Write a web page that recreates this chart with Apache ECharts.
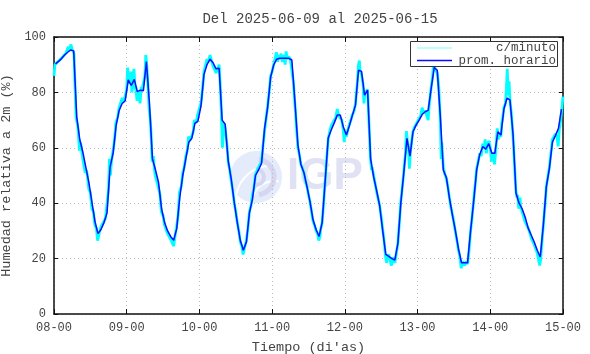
<!DOCTYPE html>
<html>
<head>
<meta charset="utf-8">
<script src="https://cdn.jsdelivr.net/npm/echarts@6/dist/echarts.min.js"></script>
<style>
html,body{margin:0;padding:0;background:#fff;}
#chart{width:590px;height:354px;}
</style>
</head>
<body>
<div id="chart"></div>
<script>
// ---- Data (hours since 08-00) ----
const tickLabels = ['08-00','09-00','10-00','11-00','12-00','13-00','14-00','15-00'];
const titleText = 'Del 2025-06-09 al 2025-06-15';
const seriesNames = ['c/minuto', 'prom. horario'];

// hourly averages (plotted at the middle of each hour)
const hourlyValues = [
  90.3, 91.2, 92.2, 93.5, 94.5, 95.3, 95, 71.2, 63, 58.5, 53, 47.5, 40.5, 33.5, 29, 30.5, 33, 36.5, 53, 58, 68, 73.5, 76, 77,
  84.5, 82.5, 84.7, 80.3, 80.8, 80.6, 91.1, 76, 56, 52, 47.5, 38, 33, 30, 28, 26.6, 30.8, 42, 50, 56, 62, 63.5, 68.8, 69.6,
  75, 86.5, 90, 92, 90.7, 88.5, 88.7, 70, 68.5, 55.3, 48.7, 40.3, 33, 26.5, 23, 26, 36.5, 41.5, 50, 52, 54.4, 67, 74.5, 85.5,
  89.9, 92, 92.3, 92.3, 92.3, 92.3, 91.7, 77, 61, 54, 51, 46, 40.5, 34, 30.5, 28, 33, 48, 63.5, 66.4, 69, 71.8, 71.8, 67.5,
  64.6, 68, 71.8, 75.4, 88, 87.6, 79, 80.8, 56, 49.5, 44.5, 39, 30, 21.5, 20.8, 20, 19.5, 25.5, 40.5, 51.5, 63.4, 57, 65.8, 68.2,
  70, 72, 73, 73.5, 81.5, 89, 88, 71.5, 52, 49.3, 42, 35.7, 30, 23.5, 18.5, 18.5, 18.5, 30, 40.5, 52, 57.5, 60.4, 59.5, 61.5,
  58, 58, 65.8, 64.6, 74, 77.9, 77.3, 65, 43.6, 40, 38, 35, 31, 28.5, 26, 23, 20.6, 32, 46, 52.5, 62, 64.4, 67, 74
];

// per-minute readings (sampled where readable): times in hours, values in %
const minuteTimes = [
  0,0.3,1,2,3,4,4.7,5,5.6,6,6.6,7,7.3,7.8,8,8.4,8.7,9,9.5,10,10.3,10.7,11,11.5,12,12.5,13,13.5,14,14.4,14.8,15,15.5,16,16.5,17,17.5,18,18.3,18.6,19,19.5,20,20.4,21,21.5,22,22.5,23,23.5,
  24,24.3,24.6,25,25.4,25.7,26,26.4,26.8,27,27.4,28,28.4,28.8,29,29.5,30,30.3,30.6,31,31.4,31.8,32,32.4,32.8,33,33.4,34,34.4,35,35.4,36,36.5,37,37.5,38,38.5,39,39.5,40,40.4,41,41.4,42,42.5,43,43.5,44,44.4,45,45.5,46,46.3,47,47.4,
  48,48.5,49,49.5,50,50.5,51,51.5,52,52.5,53,53.5,54,54.5,55,55.3,55.6,56,56.5,57,57.5,58,58.5,59,59.5,60,60.5,61,61.5,62,62.4,63,63.5,64,64.5,65,65.5,66,66.5,67,67.5,68,68.5,69,69.5,70,70.5,71,71.5,72,
  72.5,73,73.4,73.8,74,74.5,75,75.4,76,76.3,76.6,77,77.5,78,78.5,79,79.5,80,80.5,81,81.5,82,82.5,83,83.5,84,84.5,85,85.5,86,86.5,87,87.4,87.8,88,88.5,89,89.5,90,90.5,91,91.5,92,92.5,93,93.5,94,94.5,95,95.5,95.8,
  96,96.5,97,97.5,98,98.5,99,99.5,100,100.5,100.8,101,101.5,102,102.3,102.6,103,103.5,104,104.4,104.8,105,105.5,106,106.5,107,107.5,108,108.5,109,109.4,109.8,110,110.5,111,111.4,111.8,112,112.5,113,113.5,114,114.5,115,115.5,116,116.3,116.6,117,117.3,117.6,118,118.5,119,119.5,
  120,120.5,121,121.5,122,122.5,123,123.5,123.8,124,124.5,125,125.3,125.6,126,126.5,127,127.5,127.8,128,128.5,129,129.5,130,130.5,131,131.5,132,132.5,133,133.5,134,134.4,134.8,135,135.5,136,136.5,137,137.5,138,138.5,139,139.5,140,140.5,141,141.5,142,142.3,142.7,143,143.5,
  144,144.4,144.8,145,145.4,145.8,146,146.3,146.6,147,147.5,147.8,148,148.5,149,149.3,149.6,149.9,150.2,150.5,151,151.5,152,152.4,152.8,153,153.4,153.8,154,154.5,155,155.4,156,156.5,157,157.5,158,158.5,159,159.5,160,160.3,160.6,161,161.5,162,162.5,163,163.5,164,164.5,165,165.5,166,166.4,166.8,167,167.5,168
];
const minuteValues = [
  86,90,90.8,91.8,93,94.3,96.5,95,97.3,95.5,94,80,71,68,66,59,62,60.5,56,56,51,52,50,45,44,38,37,32,31,26.5,28.5,29.5,31.5,31.5,33.5,34.5,40,45,56,50,55.5,59,63,69,71,74.5,75,78,76.5,77,
  81,89,83,83.5,87.5,80,84,88.5,81,82,77,80.5,76,82,80.7,80,86,93.5,90,83,74,70,66,55,57,54,50,49.5,46,43,37,35.5,32,31.5,29,29,27,27.3,24.5,28.5,31,36,44,46,51,53,57,59,64,62.8,63,66,70,69,72,
  72,76,81,87.5,88,92,91,93.5,91.5,89.5,90,87,88.5,90,80,70,60,69,67,62,55,52,48,44.5,40,37,33,30,26,24.5,21.5,24.5,26.5,31,37,39,43,45.5,50.5,51,53,53.2,55,61,66,70.5,75,80,86,87.5,
  90,92.5,94.5,91,93.5,92,94,91,93.5,90,94.8,92,93,92,91.5,84,76,68,60,57.5,54,52.5,51,48,46,43,40.5,37,33.5,32,30,29,26.5,28,30.5,33,40,48,56,63,66,68,67.5,70,71,74,71.5,72,70,66,62,
  66,64,66.5,68.5,70,72,73,76,82,90,91.5,88,86.5,83,76,80,80,81,68,57,52,53,50,47,44,41.5,39,35,30.5,26,21,18.5,20.5,21.5,19,17.5,20.5,19.5,18.5,22,25.5,33,41,46,52,58,66,63,60,52.5,58,62,66,67.5,68,
  69.5,70.5,71.5,74.5,72.5,73.5,73,70,75,77,82,86,91.5,89,89,87,82,70,56,62,53,50.5,49,46,42,38.5,36,33,29.5,26.5,23,20.5,16.5,19,18.5,17.5,19,18,23,30,35,41,46.5,52.5,55,58,57,61.5,60,63,58,60.5,62.5,
  60,55,58.5,57,54,59,62,67,63,65,64,69,70,74.5,76,81,88.5,79,84,77,72,64,54,45,42,43,38,42,39,37,36.5,33.5,33,31,29.5,27.5,27,25,24.5,22,21.5,17.5,19.5,25,32,38.5,46,49.5,53,58,63,62.5,65,64,60.5,67,68,73,78.5
];

const FONT = '"Liberation Mono", "DejaVu Sans Mono", monospace';
const TXT = '#444';

const chart = echarts.init(document.getElementById('chart'), null, {renderer: 'canvas'});

const hourlyData = hourlyValues.map((v, i) => [i + 0.5, v]);
const minuteData = minuteTimes.map((t, i) => [t, minuteValues[i]]);

const gridLine = {show: true, lineStyle: {color: '#bbb', type: [1, 3], width: 1}};

const option = {
  animation: false,
  backgroundColor: '#fff',
  title: {
    text: titleText,
    left: 315,
    top: 7,
    textAlign: 'center',
    textStyle: {fontFamily: FONT, fontSize: 14, fontWeight: 'normal', color: TXT}
  },
  grid: {left: 54, right: 27, top: 37, bottom: 40, containLabel: false, outerBoundsMode: 'none'},
  xAxis: [{
    type: 'value', min: 0, max: 168, interval: 24,
    name: 'Tiempo (di\'as)', nameLocation: 'middle', nameGap: 26,
    nameTextStyle: {fontFamily: FONT, fontSize: 13.5, color: TXT},
    axisLine: {show: true, onZero: false, lineStyle: {color: '#111', width: 1.5}},
    axisTick: {show: true, inside: true, length: 5, lineStyle: {color: '#111', width: 1}},
    axisLabel: {fontFamily: FONT, fontSize: 12, color: TXT, margin: 8,
      formatter: v => tickLabels[Math.round(v / 24)]},
    splitLine: gridLine
  }, {
    type: 'value', position: 'top', min: 0, max: 168, interval: 24,
    axisLine: {show: true, onZero: false, lineStyle: {color: '#111', width: 1.5}},
    axisTick: {show: true, inside: true, length: 5, lineStyle: {color: '#111', width: 1}},
    axisLabel: {show: false}, splitLine: {show: false}
  }],
  yAxis: [{
    type: 'value', min: 0, max: 100, interval: 20,
    name: 'Humedad relativa a 2m (%)', nameLocation: 'middle', nameGap: 29, nameRotate: 90,
    nameTextStyle: {fontFamily: FONT, fontSize: 13.5, color: TXT},
    axisLine: {show: true, onZero: false, lineStyle: {color: '#111', width: 1.5}},
    axisTick: {show: true, inside: true, length: 4, lineStyle: {color: '#111', width: 1}},
    axisLabel: {fontFamily: FONT, fontSize: 12, color: TXT, margin: 8},
    splitLine: gridLine
  }, {
    type: 'value', position: 'right', min: 0, max: 100, interval: 20,
    axisLine: {show: true, onZero: false, lineStyle: {color: '#111', width: 1.5}},
    axisTick: {show: true, inside: true, length: 4, lineStyle: {color: '#111', width: 1}},
    axisLabel: {show: false}, splitLine: {show: false}
  }],
  series: [{
    name: seriesNames[0], type: 'line', data: minuteData, showSymbol: false, symbol: 'none',
    lineStyle: {color: '#00ffff', width: 2.8}, z: 3
  }, {
    name: seriesNames[1], type: 'line', data: hourlyData, showSymbol: false, symbol: 'none',
    lineStyle: {color: '#0a0aff', width: 1.5}, z: 4
  }],
  graphic: [
    // watermark logo
    {type: 'circle', shape: {cx: 256, cy: 177, r: 26}, style: {fill: '#e4ebfa'}, z: 0, silent: true},
    {type: 'arc', shape: {cx: 270, cy: 200, r: 34, startAngle: Math.PI * 1.05, endAngle: Math.PI * 1.5}, style: {stroke: '#fff', lineWidth: 2, fill: null}, z: 0, silent: true},
    {type: 'arc', shape: {cx: 275, cy: 205, r: 24, startAngle: Math.PI * 1.0, endAngle: Math.PI * 1.55}, style: {stroke: '#fff', lineWidth: 2, fill: null}, z: 0, silent: true},
    {type: 'arc', shape: {cx: 256, cy: 177, r: 18, startAngle: -Math.PI * 0.45, endAngle: Math.PI * 0.45}, style: {stroke: '#d6d6f0', lineWidth: 5, fill: null}, z: 0, silent: true},
    {type: 'arc', shape: {cx: 256, cy: 177, r: 8, startAngle: -Math.PI * 0.5, endAngle: Math.PI * 0.5}, style: {stroke: '#d6d6f0', lineWidth: 4, fill: null}, z: 0, silent: true},
    {type: 'text', x: 287, y: 177, style: {text: 'IGP', font: 'bold 44px "Liberation Sans", Arial, sans-serif', fill: '#e1e1f4', textVerticalAlign: 'middle'}, z: 0, silent: true},
    // legend box
    {type: 'rect', shape: {x: 410.5, y: 41.5, width: 147, height: 25}, style: {fill: '#fff', stroke: '#333', lineWidth: 1}, z: 10},
    {type: 'line', shape: {x1: 417, y1: 48, x2: 452, y2: 48}, style: {stroke: '#7ff', lineWidth: 1}, z: 11},
    {type: 'line', shape: {x1: 417, y1: 60.5, x2: 452, y2: 60.5}, style: {stroke: '#0a0aff', lineWidth: 1.5}, z: 11},
    {type: 'text', x: 556, y: 48, style: {text: seriesNames[0], font: '12.5px ' + FONT, fill: TXT, textAlign: 'right', textVerticalAlign: 'middle'}, z: 11},
    {type: 'text', x: 556, y: 60.5, style: {text: seriesNames[1], font: '12.5px ' + FONT, fill: TXT, textAlign: 'right', textVerticalAlign: 'middle'}, z: 11}
  ]
};
chart.setOption(option);
</script>
</body>
</html>
